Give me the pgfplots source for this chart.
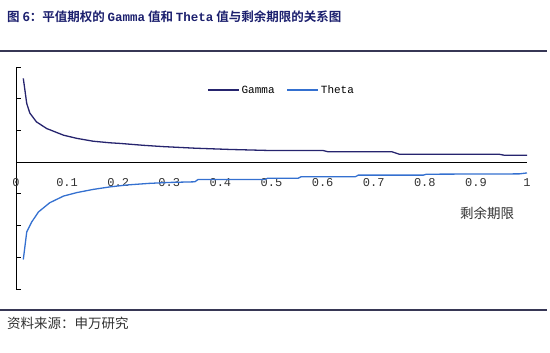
\documentclass[border=0pt]{standalone}
\usepackage{pgfplots}
\pgfplotsset{compat=1.18}
\usepackage{fontspec}
\setmonofont{Liberation Mono}
\newfontfamily\cjk[BoldFont={Noto Sans CJK SC Bold}]{Noto Sans CJK SC}
\definecolor{gam}{RGB}{38,36,110}
\definecolor{the}{RGB}{52,112,208}
\definecolor{titlec}{RGB}{28,32,110}
\definecolor{rulec}{RGB}{55,55,85}
\definecolor{txt}{RGB}{50,50,50}
\begin{document}
\begin{tikzpicture}
\path[use as bounding box] (0pt,0pt) rectangle (550pt,-353pt);
\draw[rulec, line width=1.5pt] (0pt,-51pt) -- (547pt,-51pt);
\draw[rulec, line width=1.5pt] (0pt,-310pt) -- (547pt,-310pt);
\node[anchor=west, text=titlec, inner sep=0pt] at (7pt,-17pt) {\cjk\bfseries\fontsize{12.5}{14}\selectfont 图 6：平值期权的 {\ttfamily\bfseries Gamma} 值和 {\ttfamily\bfseries Theta} 值与剩余期限的关系图};
\node[anchor=west, text=txt, inner sep=0pt] at (7pt,-323pt) {\cjk\fontsize{13.5}{15}\selectfont 资料来源：申万研究};
\node[text=txt, inner sep=0pt] at (487pt,-213pt) {\cjk\fontsize{13.5}{15}\selectfont 剩余期限};
\begin{axis}[
  at={(16pt,-289pt)}, anchor=south west,
  scale only axis, width=511pt, height=222pt,
  xmin=0, xmax=1, ymin=-4, ymax=3,
  axis lines=middle,
  axis line style={-, black, line width=0.8pt},
  clip=false,
  hide obscured x ticks=false,
  xtick={0,0.1,0.2,0.3,0.4,0.5,0.6,0.7,0.8,0.9,1},
  xticklabels={0,0.1,0.2,0.3,0.4,0.5,0.6,0.7,0.8,0.9,1},
  x tick style={draw=none},
  xticklabel style={anchor=center, yshift=-20pt, font=\ttfamily\fontsize{12}{12}\selectfont, text=txt},
  ytick={-4,-3,-2,-1,1,2,3},
  yticklabels={},
  y tick style={black, line width=0.8pt},
  tick align=inside,
  major tick length=5pt,
  /pgf/number format/assume math mode=true,
  legend columns=2,
  legend style={draw=none, fill=none, at={(0.374,0.896)}, anchor=west, inner sep=0pt,
    font=\ttfamily\fontsize{11}{11}\selectfont,
    /tikz/every even column/.append style={column sep=10pt}},
  legend image code/.code={\draw[#1] (0pt,0pt) -- (31pt,0pt);},
]
\addplot[gam, line width=1.3pt] coordinates {
(0.0143,2.64) (0.021,1.85) (0.027,1.55) (0.040,1.27) (0.060,1.06) (0.093,0.85)
(0.119,0.75) (0.151,0.66) (0.184,0.61) (0.204,0.59) (0.25,0.53) (0.288,0.49)
(0.35,0.44) (0.419,0.40) (0.49,0.37) (0.60,0.37) (0.61,0.33) (0.735,0.33)
(0.75,0.25) (0.945,0.25) (0.955,0.22) (1.0,0.22)
};
\addlegendentry{Gamma}
\addplot[the, line width=1.3pt] coordinates {
(0.0143,-3.07) (0.021,-2.20) (0.031,-1.88) (0.044,-1.57) (0.066,-1.28) (0.093,-1.07)
(0.119,-0.96) (0.151,-0.86) (0.184,-0.78) (0.217,-0.72) (0.26,-0.67) (0.30,-0.64)
(0.350,-0.62) (0.356,-0.55) (0.487,-0.55) (0.492,-0.51) (0.552,-0.51) (0.558,-0.46)
(0.664,-0.46) (0.670,-0.41) (0.797,-0.41) (0.803,-0.38) (0.985,-0.37) (1.0,-0.34)
};
\addlegendentry{Theta}
\end{axis}
\end{tikzpicture}
\end{document}
